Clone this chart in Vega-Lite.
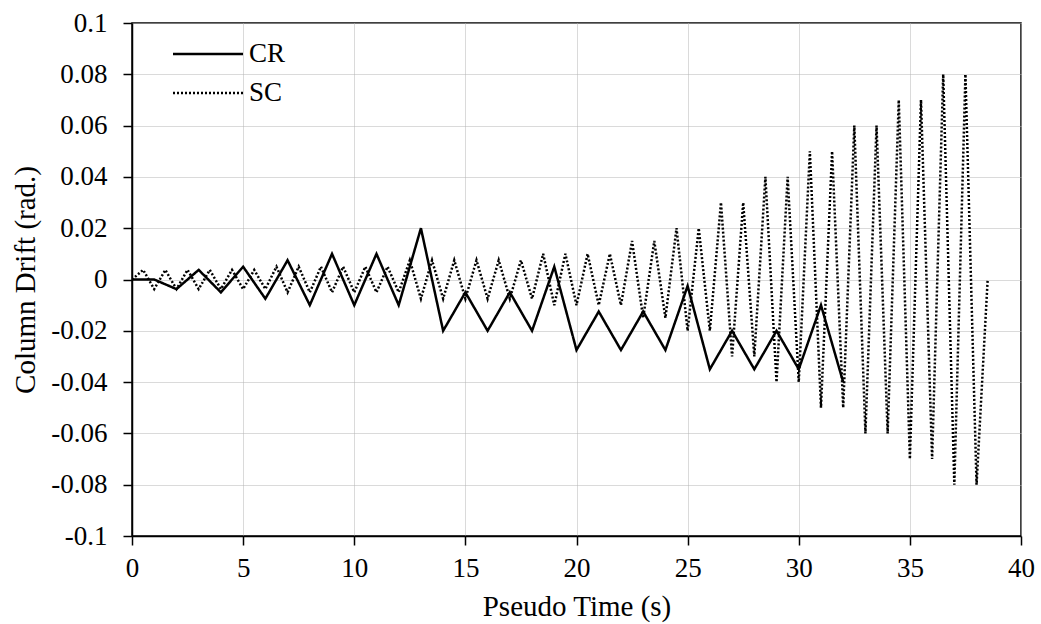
{
  "$schema": "https://vega.github.io/schema/vega-lite/v6.json",
  "autosize": {"type": "none"},
  "padding": {"left": 132, "top": 23, "right": 20, "bottom": 88},
  "width": 889,
  "height": 513,
  "background": "white",
  "config": {
    "font": "Times New Roman, Liberation Serif, serif",
    "view": {"stroke": "black", "strokeWidth": 1.5},
    "axis": {
      "labelFont": "Times New Roman, Liberation Serif, serif",
      "labelFontSize": 27,
      "labelColor": "black",
      "titleFont": "Times New Roman, Liberation Serif, serif",
      "titleFontSize": 29,
      "titleFontWeight": "normal",
      "titleColor": "black",
      "domainColor": "black",
      "domainWidth": 1.5,
      "tickColor": "black",
      "tickWidth": 1.5,
      "tickSize": 9,
      "gridColor": "#b5b5b5",
      "gridDash": [1, 1],
      "gridWidth": 1
    },
    "legend": {
      "labelFont": "Times New Roman, Liberation Serif, serif",
      "labelFontSize": 27,
      "labelColor": "black"
    }
  },
  "data": {
    "values": [
      {"series": "CR", "t": 0, "d": 0},
      {"series": "CR", "t": 1, "d": 0},
      {"series": "CR", "t": 2, "d": -0.00375},
      {"series": "CR", "t": 3, "d": 0.00375},
      {"series": "CR", "t": 4, "d": -0.005},
      {"series": "CR", "t": 5, "d": 0.005},
      {"series": "CR", "t": 6, "d": -0.0075},
      {"series": "CR", "t": 7, "d": 0.0075},
      {"series": "CR", "t": 8, "d": -0.01},
      {"series": "CR", "t": 9, "d": 0.01},
      {"series": "CR", "t": 10, "d": -0.01},
      {"series": "CR", "t": 11, "d": 0.01},
      {"series": "CR", "t": 12, "d": -0.01},
      {"series": "CR", "t": 13, "d": 0.02},
      {"series": "CR", "t": 14, "d": -0.02},
      {"series": "CR", "t": 15, "d": -0.005},
      {"series": "CR", "t": 16, "d": -0.02},
      {"series": "CR", "t": 17, "d": -0.005},
      {"series": "CR", "t": 18, "d": -0.02},
      {"series": "CR", "t": 19, "d": 0.005},
      {"series": "CR", "t": 20, "d": -0.0275},
      {"series": "CR", "t": 21, "d": -0.0125},
      {"series": "CR", "t": 22, "d": -0.0275},
      {"series": "CR", "t": 23, "d": -0.0125},
      {"series": "CR", "t": 24, "d": -0.0275},
      {"series": "CR", "t": 25, "d": -0.0025},
      {"series": "CR", "t": 26, "d": -0.035},
      {"series": "CR", "t": 27, "d": -0.02},
      {"series": "CR", "t": 28, "d": -0.035},
      {"series": "CR", "t": 29, "d": -0.02},
      {"series": "CR", "t": 30, "d": -0.035},
      {"series": "CR", "t": 31, "d": -0.01},
      {"series": "CR", "t": 32, "d": -0.04},
      {"series": "SC", "t": 0, "d": 0},
      {"series": "SC", "t": 0.5, "d": 0.00375},
      {"series": "SC", "t": 1, "d": -0.00375},
      {"series": "SC", "t": 1.5, "d": 0.00375},
      {"series": "SC", "t": 2, "d": -0.00375},
      {"series": "SC", "t": 2.5, "d": 0.00375},
      {"series": "SC", "t": 3, "d": -0.00375},
      {"series": "SC", "t": 3.5, "d": 0.00375},
      {"series": "SC", "t": 4, "d": -0.00375},
      {"series": "SC", "t": 4.5, "d": 0.00375},
      {"series": "SC", "t": 5, "d": -0.00375},
      {"series": "SC", "t": 5.5, "d": 0.00375},
      {"series": "SC", "t": 6, "d": -0.00375},
      {"series": "SC", "t": 6.5, "d": 0.005},
      {"series": "SC", "t": 7, "d": -0.005},
      {"series": "SC", "t": 7.5, "d": 0.005},
      {"series": "SC", "t": 8, "d": -0.005},
      {"series": "SC", "t": 8.5, "d": 0.005},
      {"series": "SC", "t": 9, "d": -0.005},
      {"series": "SC", "t": 9.5, "d": 0.005},
      {"series": "SC", "t": 10, "d": -0.005},
      {"series": "SC", "t": 10.5, "d": 0.005},
      {"series": "SC", "t": 11, "d": -0.005},
      {"series": "SC", "t": 11.5, "d": 0.005},
      {"series": "SC", "t": 12, "d": -0.005},
      {"series": "SC", "t": 12.5, "d": 0.0075},
      {"series": "SC", "t": 13, "d": -0.0075},
      {"series": "SC", "t": 13.5, "d": 0.0075},
      {"series": "SC", "t": 14, "d": -0.0075},
      {"series": "SC", "t": 14.5, "d": 0.0075},
      {"series": "SC", "t": 15, "d": -0.0075},
      {"series": "SC", "t": 15.5, "d": 0.0075},
      {"series": "SC", "t": 16, "d": -0.0075},
      {"series": "SC", "t": 16.5, "d": 0.0075},
      {"series": "SC", "t": 17, "d": -0.0075},
      {"series": "SC", "t": 17.5, "d": 0.0075},
      {"series": "SC", "t": 18, "d": -0.0075},
      {"series": "SC", "t": 18.5, "d": 0.01},
      {"series": "SC", "t": 19, "d": -0.01},
      {"series": "SC", "t": 19.5, "d": 0.01},
      {"series": "SC", "t": 20, "d": -0.01},
      {"series": "SC", "t": 20.5, "d": 0.01},
      {"series": "SC", "t": 21, "d": -0.01},
      {"series": "SC", "t": 21.5, "d": 0.01},
      {"series": "SC", "t": 22, "d": -0.01},
      {"series": "SC", "t": 22.5, "d": 0.015},
      {"series": "SC", "t": 23, "d": -0.015},
      {"series": "SC", "t": 23.5, "d": 0.015},
      {"series": "SC", "t": 24, "d": -0.015},
      {"series": "SC", "t": 24.5, "d": 0.02},
      {"series": "SC", "t": 25, "d": -0.02},
      {"series": "SC", "t": 25.5, "d": 0.02},
      {"series": "SC", "t": 26, "d": -0.02},
      {"series": "SC", "t": 26.5, "d": 0.03},
      {"series": "SC", "t": 27, "d": -0.03},
      {"series": "SC", "t": 27.5, "d": 0.03},
      {"series": "SC", "t": 28, "d": -0.03},
      {"series": "SC", "t": 28.5, "d": 0.04},
      {"series": "SC", "t": 29, "d": -0.04},
      {"series": "SC", "t": 29.5, "d": 0.04},
      {"series": "SC", "t": 30, "d": -0.04},
      {"series": "SC", "t": 30.5, "d": 0.05},
      {"series": "SC", "t": 31, "d": -0.05},
      {"series": "SC", "t": 31.5, "d": 0.05},
      {"series": "SC", "t": 32, "d": -0.05},
      {"series": "SC", "t": 32.5, "d": 0.06},
      {"series": "SC", "t": 33, "d": -0.06},
      {"series": "SC", "t": 33.5, "d": 0.06},
      {"series": "SC", "t": 34, "d": -0.06},
      {"series": "SC", "t": 34.5, "d": 0.07},
      {"series": "SC", "t": 35, "d": -0.07},
      {"series": "SC", "t": 35.5, "d": 0.07},
      {"series": "SC", "t": 36, "d": -0.07},
      {"series": "SC", "t": 36.5, "d": 0.08},
      {"series": "SC", "t": 37, "d": -0.08},
      {"series": "SC", "t": 37.5, "d": 0.08},
      {"series": "SC", "t": 38, "d": -0.08},
      {"series": "SC", "t": 38.5, "d": 0}
    ]
  },
  "mark": {"type": "line", "color": "black", "strokeWidth": 2.5, "strokeCap": "butt", "clip": true},
  "encoding": {
    "x": {
      "field": "t",
      "type": "quantitative",
      "scale": {"domain": [0, 40], "nice": false, "zero": false},
      "axis": {
        "values": [0, 5, 10, 15, 20, 25, 30, 35, 40],
        "title": "Pseudo Time (s)",
        "labelPadding": 10,
        "titlePadding": 11,
        "labelFlush": false
      }
    },
    "y": {
      "field": "d",
      "type": "quantitative",
      "scale": {"domain": [-0.1, 0.1], "nice": false, "zero": false},
      "axis": {
        "values": [-0.1, -0.08, -0.06, -0.04, -0.02, 0, 0.02, 0.04, 0.06, 0.08, 0.1],
        "labelExpr": "datum.value < 0 ? '-' + format(-datum.value, '~g') : format(datum.value, '~g')",
        "title": "Column Drift (rad.)",
        "labelPadding": 16,
        "titlePadding": 10,
        "labelFlush": false
      }
    },
    "strokeDash": {
      "field": "series",
      "type": "nominal",
      "scale": {"domain": ["CR", "SC"], "range": [[1, 0], [2, 2]]},
      "legend": {
        "title": null,
        "orient": "none",
        "legendX": 50,
        "legendY": 5,
        "symbolType": "M-1.4286,0H1.4286",
        "symbolSize": 2401,
        "symbolStrokeColor": "black",
        "symbolStrokeWidth": 2.5,
        "labelOffset": 15,
        "rowPadding": 0
      }
    },
    "order": {"field": "t", "type": "quantitative"}
  }
}
